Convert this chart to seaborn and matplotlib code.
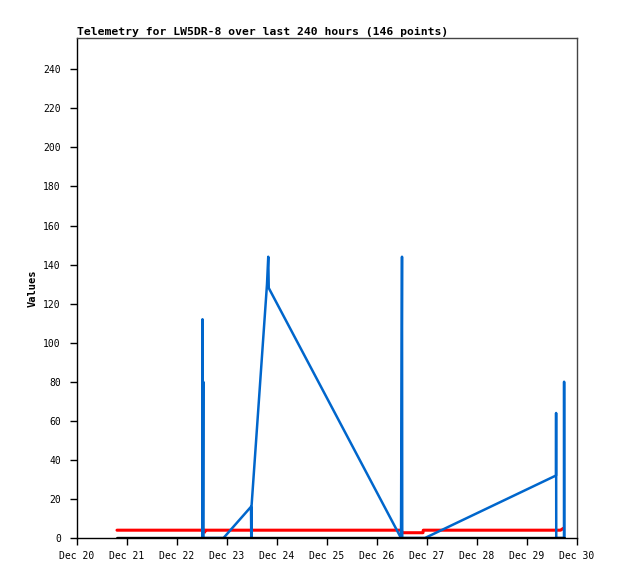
import pandas as pd
import seaborn as sns
import matplotlib.pyplot as plt
import matplotlib.dates as mdates

# datos (dias de diciembre, valor)
blue_dia = [22.505, 22.51, 22.515, 22.525, 22.53, 22.93, 23.48, 23.485, 23.49,
            23.80, 23.825, 23.835, 26.48, 26.50, 26.505, 26.96, 29.58, 29.582,
            29.585, 29.74, 29.742, 29.745]
blue_val = [0, 112, 0, 80, 0, 0, 16, 0, 16,
            130, 144, 128, 0, 144, 0, 0, 32, 64,
            0, 0, 80, 0]

red_dia = [20.80, 22.55, 22.555, 22.56, 26.49, 26.50, 26.92, 26.925, 29.67, 29.70, 29.73]
red_val = [4, 4, 3, 4, 4, 2.7, 2.7, 4, 4, 4.5, 5]

black_dia = [20.80, 29.745]
black_val = [0, 0]

y_ticks = list(range(0, 241, 20))
titulo = 'Telemetry for LW5DR-8 over last 240 hours (146 points)'

base = pd.Timestamp('2024-12-01')


def a_fecha(dias):
    return [base + pd.Timedelta(days=d - 1) for d in dias]


df_blue = pd.DataFrame({'t': a_fecha(blue_dia), 'v': blue_val})
df_red = pd.DataFrame({'t': a_fecha(red_dia), 'v': red_val})
df_black = pd.DataFrame({'t': a_fecha(black_dia), 'v': black_val})

sns.set_style('white')
plt.rcParams['font.family'] = ['DejaVu Sans Mono', 'DejaVu Sans']
plt.rcParams['text.color'] = 'black'

fig = plt.figure(figsize=(6.18, 5.79), dpi=100)
ax = fig.add_axes([77 / 618, 41 / 579, 500 / 618, 500 / 579])

sns.lineplot(data=df_red, x='t', y='v', ax=ax, color='#ff0000', lw=2.2,
             sort=False, estimator=None)
sns.lineplot(data=df_blue, x='t', y='v', ax=ax, color='#0066cc', lw=1.8,
             sort=False, estimator=None)
sns.lineplot(data=df_black, x='t', y='v', ax=ax, color='black', lw=2.4,
             sort=False, estimator=None)

ax.set_xlim(base + pd.Timedelta(days=19), base + pd.Timedelta(days=29))
ax.set_ylim(0, 256)
ax.set_yticks(y_ticks)
ax.xaxis.set_major_locator(mdates.DayLocator())
ax.xaxis.set_major_formatter(mdates.DateFormatter('%b %d'))

ax.tick_params(axis='both', direction='out', length=5.3, width=1, color='black',
               labelsize=7, labelcolor='black')
ax.tick_params(axis='y', pad=6.3, left=True)
ax.tick_params(axis='x', pad=4, bottom=True)

for lado in ['left', 'bottom']:
    ax.spines[lado].set_color('black')
    ax.spines[lado].set_linewidth(1)
for lado in ['top', 'right']:
    ax.spines[lado].set_color('#444444')
    ax.spines[lado].set_linewidth(1)

ax.set_xlabel('')
ax.set_ylabel('Values', fontsize=7.5, fontweight='bold', labelpad=4, color='black')
ax.set_title(titulo, loc='left', fontsize=8.2, fontweight='bold', pad=2.5,
             color='black')
ax.grid(False)

plt.savefig('out.png', dpi=100)
plt.close()
